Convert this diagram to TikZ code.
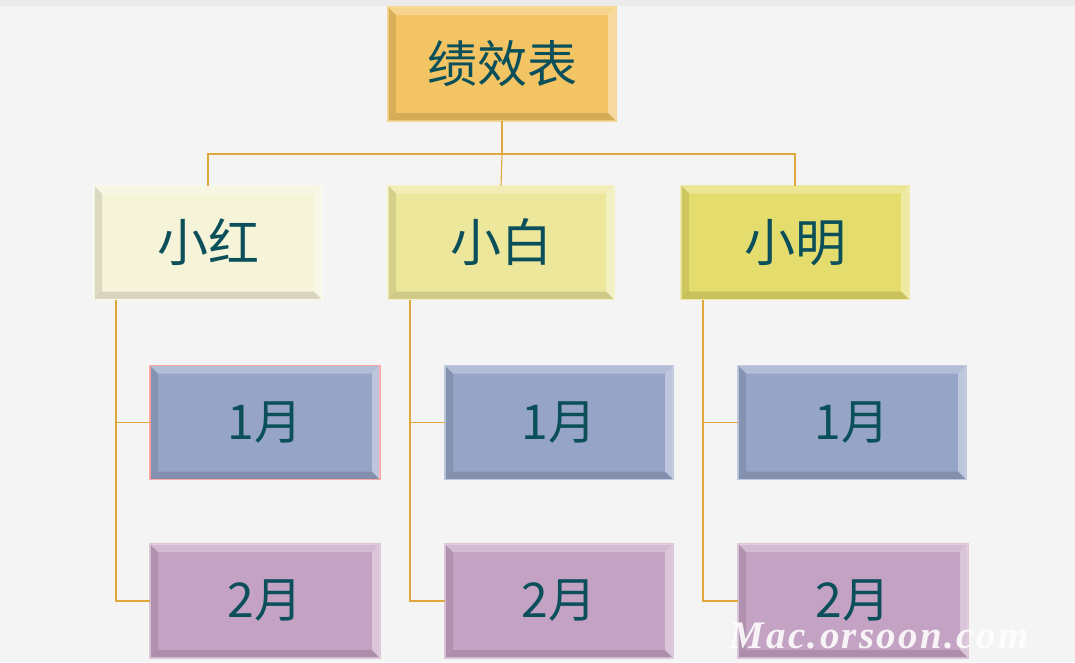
\documentclass[tikz,border=0pt]{standalone}
\usepackage{fontspec}
\newfontfamily\cjk{Noto Sans CJK SC}
\newfontfamily\wmfont[LetterSpace=6]{Liberation Serif}
\usetikzlibrary{calc}
\definecolor{bg}{HTML}{F4F4F4}
\definecolor{bgtop}{HTML}{EBEBEB}
\definecolor{txt}{HTML}{0B4F5A}
\definecolor{wire}{HTML}{E0A73A}
\definecolor{cTop}{HTML}{F2C463}
\definecolor{cHong}{HTML}{F5F3D8}
\definecolor{cBai}{HTML}{EDE79B}
\definecolor{cMing}{HTML}{E4DC6C}
\definecolor{cOne}{HTML}{95A4C7}
\definecolor{cTwo}{HTML}{C4A2C3}
\tikzset{
  bbox/.style={rectangle, inner sep=0pt, outer sep=0pt, minimum width=228pt, minimum height=114pt,
    text=txt, font=\cjk\fontsize{48}{50}\selectfont, line width=1.2pt},
  namebox/.style={bbox, font=\cjk\fontsize{51}{53}\selectfont},
  wireline/.style={draw=wire, line width=1.1pt},
}
\begin{document}
\begin{tikzpicture}[x=1pt,y=-1pt]
\useasboundingbox (0,0) rectangle (1075,662);
\fill[bg] (0,0) rectangle (1075,662);
\fill[bgtop] (0,0) rectangle (1075,6);

% nodes
\node[bbox, fill=cTop, draw=cTop!70!white, font=\cjk\fontsize{50}{52}\selectfont] (top) at (502,64) {绩效表};
\node[namebox, fill=cHong, draw=cHong!40!white] (hong) at (208,242.5) {小红};
\node[namebox, fill=cBai, draw=cBai!60!white, minimum width=226pt] (bai) at (501,242.5) {小白};
\node[namebox, fill=cMing, draw=cMing!60!white] (ming) at (795,242.5) {小明};
\node[bbox, fill=cOne, draw=red!35!white, minimum width=230pt] (h1) at (265,422.5) {1月};
\node[bbox, fill=cOne, draw=cOne!60!white] (b1) at (559,422.5) {1月};
\node[bbox, fill=cOne, draw=cOne!60!white] (m1) at (852,422.5) {1月};
\node[bbox, fill=cTwo, draw=cTwo!60!white, minimum width=230pt] (h2) at (265,601) {2月};
\node[bbox, fill=cTwo, draw=cTwo!60!white] (b2) at (559,601) {2月};
\node[bbox, fill=cTwo, draw=cTwo!60!white, minimum width=230pt] (m2) at (853,601) {2月};

% bevels
\foreach \n in {top,hong,bai,ming,h1,b1,m1,h2,b2,m2}{
  \fill[white, opacity=0.28] ($(\n.north west)+(0.6,0.6)$) -- ($(\n.north east)+(-0.6,0.6)$) -- ($(\n.north east)+(-8,8)$) -- ($(\n.north west)+(8,8)$) -- cycle;
  \fill[white, opacity=0.38] ($(\n.north east)+(-0.6,0.6)$) -- ($(\n.south east)+(-0.6,-0.6)$) -- ($(\n.south east)+(-8,-8)$) -- ($(\n.north east)+(-8,8)$) -- cycle;
  \fill[black, opacity=0.10] ($(\n.north west)+(0.6,0.6)$) -- ($(\n.north west)+(8,8)$) -- ($(\n.south west)+(8,-8)$) -- ($(\n.south west)+(0.6,-0.6)$) -- cycle;
  \fill[black, opacity=0.12] ($(\n.south west)+(0.6,-0.6)$) -- ($(\n.south east)+(-0.6,-0.6)$) -- ($(\n.south east)+(-8,-8)$) -- ($(\n.south west)+(8,-8)$) -- cycle;
}

% connectors
\coordinate (bus) at (502,154);
\draw[wireline] (top.south) -- (bus);
\draw[wireline] (hong.north) |- (bus) -| (ming.north);
\draw[wireline] (bus) -- (bai.north);
\foreach \p/\q/\x in {hong/h/116,bai/b/410,ming/m/703}{
  \draw[wireline] (\p.south -| \x,0) |- (\q2.west);
  \draw[wireline] (\x,422.5) -- (\q1.west);
}

% watermark
\node[anchor=base, inner sep=0pt, text=white, opacity=0.88, font=\wmfont\bfseries\itshape\fontsize{39}{41}\selectfont] (wm) at (879,648) {Mac.orsoon.com};
\end{tikzpicture}
\end{document}
